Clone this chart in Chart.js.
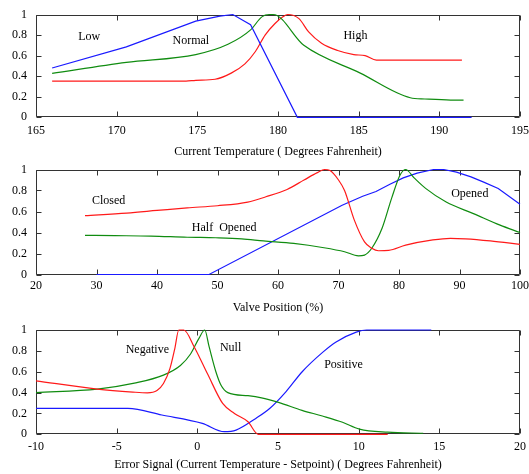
<!DOCTYPE html>
<html><head><meta charset="utf-8">
<script src="https://cdn.jsdelivr.net/npm/chart.js@4"></script>
<style>
html,body{margin:0;padding:0;background:#fff;}
#wrap{position:relative;width:529px;height:474px;overflow:hidden;background:#fff}
canvas{position:absolute;left:0}
</style></head><body>
<div id="wrap">
<canvas id="c1" width="529" height="160" style="top:0px;width:529px;height:160px"></canvas>
<canvas id="c2" width="529" height="155" style="top:160px;width:529px;height:155px"></canvas>
<canvas id="c3" width="529" height="159" style="top:315px;width:529px;height:159px"></canvas>
</div>
<script>
// ---- Chart 1: Current Temperature ----
const lowX    = [166, 170.6, 174.9, 176.4, 177.2, 178.3, 181.2, 192];
const lowY    = [0.48, 0.685, 0.935, 0.985, 1.0, 0.9, 0, 0];
const normalX = [166, 170.6, 174.9, 176.9, 178.3, 179.0, 179.45, 179.7, 181.6, 185.1, 188.2, 189.1, 190.7, 191.5];
const normalY = [0.427, 0.534, 0.61, 0.71, 0.85, 0.977, 1.0, 1.0, 0.70, 0.43, 0.19, 0.178, 0.168, 0.168];
const highX   = [166, 174.3, 174.9, 176.1, 177.1, 177.95, 178.6, 179.2, 179.8, 180.3, 180.6, 181.3, 181.9, 182.7, 183.7, 184.7, 185.4, 186.1, 191.4];
const highY   = [0.352, 0.352, 0.36, 0.37, 0.43, 0.52, 0.64, 0.80, 0.91, 0.977, 1.0, 0.96, 0.83, 0.72, 0.65, 0.61, 0.60, 0.556, 0.556];
const tempLabels  = ['Low', 'Normal', 'High'];
const tempLabelX  = [168.3, 174.6, 184.8];
const tempLabelY  = [0.78, 0.745, 0.79];

// ---- Chart 2: Valve Position ----
const closedX = [28.1, 35, 40, 45, 50, 55, 58, 61.5, 64.3, 66.5, 67.7, 68.6, 70, 71, 72.6, 74.3, 75.5, 76.6, 78.3, 81.1, 85.6, 88.5, 91, 95.1, 100];
const closedY = [0.56, 0.585, 0.61, 0.635, 0.655, 0.69, 0.74, 0.81, 0.90, 0.97, 1.0, 0.99, 0.90, 0.80, 0.52, 0.31, 0.25, 0.226, 0.23, 0.28, 0.33, 0.345, 0.34, 0.32, 0.287];
const halfX   = [28.1, 33, 39, 45, 49.7, 54, 57.6, 62.6, 67.6, 71, 73.3, 74.3, 75.5, 77.2, 78.8, 80.2, 81.1, 82.5, 84.4, 87.8, 92.3, 96.7, 100];
const halfY   = [0.373, 0.37, 0.366, 0.355, 0.35, 0.34, 0.32, 0.296, 0.255, 0.217, 0.178, 0.185, 0.25, 0.44, 0.73, 0.95, 1.0, 0.92, 0.82, 0.69, 0.58, 0.47, 0.40];
const openedX = [30, 48.6, 70.6, 74, 76.2, 78.5, 80.7, 83, 85.7, 87.4, 89.5, 91.9, 94, 96.4, 100];
const openedY = [0, 0, 0.66, 0.745, 0.79, 0.86, 0.92, 0.965, 1.0, 1.0, 0.975, 0.93, 0.88, 0.82, 0.67];
const valveLabels = ['Closed', 'Half  Opened', 'Opened'];
const valveLabelX = [32, 51.1, 91.7];
const valveLabelY = [0.70, 0.445, 0.765];

// ---- Chart 3: Error Signal ----
const negX  = [-10, -6.2, -4, -3.1, -2.5, -2.1, -1.7, -1.4, -1.15, -0.84, -0.2, 0.63, 1.57, 2.3, 3.14, 3.77, 11.8];
const negY  = [0.513, 0.433, 0.405, 0.398, 0.42, 0.487, 0.63, 0.82, 1.0, 1.0, 0.84, 0.58, 0.296, 0.20, 0.12, 0, 0];
const nullX = [-10, -6.2, -3.9, -2.1, -1.05, -0.42, 0.1, 0.46, 0.73, 1.15, 1.47, 1.89, 3.14, 3.98, 5.03, 6.49, 7.75, 9.0, 10.05, 11.8, 14.0];
const nullY = [0.40, 0.433, 0.49, 0.567, 0.66, 0.77, 0.92, 1.0, 0.84, 0.6, 0.47, 0.40, 0.37, 0.35, 0.306, 0.23, 0.175, 0.115, 0.05, 0.02, 0.01];
const posX  = [-10, -4.3, -2.2, 0.31, 1.67, 2.4, 3.6, 4.5, 5.5, 6.5, 7.8, 8.6, 9.85, 10.5, 14.5];
const posY  = [0.248, 0.248, 0.185, 0.105, 0.025, 0.04, 0.15, 0.25, 0.41, 0.6, 0.79, 0.885, 0.98, 1.0, 1.0];
const errLabels = ['Negative', 'Null', 'Positive'];
const errLabelX = [-3.1, 2.06, 9.06];
const errLabelY = [0.806, 0.83, 0.67];

const RED = '#ff1a1a', GREEN = '#108c10', BLUE = '#1a1aff';
const FONT = {family: '"Liberation Serif", "Times New Roman", serif', size: 12};

function pts(xs, ys) { return xs.map((x, i) => ({x: x, y: ys[i]})); }

const framePlugin = {
  id: 'frameTicks',
  beforeDatasetsDraw(chart) {
    const {ctx, chartArea: a, scales: {x, y}} = chart;
    ctx.save();
    ctx.strokeStyle = '#333';
    ctx.lineWidth = 1;
    const L = Math.round(a.left) + 0.5, R = Math.round(a.right) - 0.5;
    const T = Math.round(a.top) + 0.5, B = Math.round(a.bottom) - 0.5;
    ctx.beginPath();
    ctx.rect(L, T, R - L, B - T);
    x.ticks.forEach(t => {
      const p = Math.round(x.getPixelForValue(t.value)) + 0.5;
      ctx.moveTo(p, B); ctx.lineTo(p, B - 5);
      ctx.moveTo(p, T); ctx.lineTo(p, T + 5);
    });
    y.ticks.forEach(t => {
      const p = Math.round(y.getPixelForValue(t.value)) + 0.5;
      ctx.moveTo(L, p); ctx.lineTo(L + 5, p);
      ctx.moveTo(R, p); ctx.lineTo(R - 5, p);
    });
    ctx.stroke();
    ctx.restore();
  },
  afterDatasetsDraw(chart, args, opts) {
    const {ctx, scales: {x, y}} = chart;
    ctx.save();
    ctx.fillStyle = '#000';
    ctx.font = FONT.size + 'px ' + FONT.family;
    ctx.textAlign = 'center';
    ctx.textBaseline = 'middle';
    (opts.texts || []).forEach((s, i) => {
      ctx.fillText(s, x.getPixelForValue(opts.xs[i]), y.getPixelForValue(opts.ys[i]));
    });
    ctx.restore();
  }
};

function makeChart(id, cfg) {
  const ds = cfg.series.map(s => ({
    data: pts(s.x, s.y),
    borderColor: s.color,
    borderWidth: 1.2,
    pointRadius: 0,
    fill: false,
    tension: s.linear ? 0 : 0.4,
    cubicInterpolationMode: s.linear ? 'default' : 'monotone',
    clip: 3
  }));
  return new Chart(document.getElementById(id), {
    type: 'line',
    data: {datasets: ds},
    plugins: [framePlugin],
    options: {
      responsive: false,
      animation: false,
      devicePixelRatio: 1,
      layout: {padding: {top: cfg.top, right: 9, left: 0, bottom: 0}},
      plugins: {
        legend: {display: false},
        tooltip: {enabled: false},
        frameTicks: {texts: cfg.labels, xs: cfg.labelX, ys: cfg.labelY}
      },
      scales: {
        x: {
          type: 'linear', min: cfg.xmin, max: cfg.xmax,
          ticks: {stepSize: cfg.step, color: '#000', font: FONT, padding: cfg.tickPad, maxRotation: 0, autoSkip: false},
          grid: {display: false, drawTicks: false},
          border: {display: false},
          title: {display: true, text: cfg.title, color: '#000', font: FONT, padding: {top: 0, bottom: cfg.titlePad}},
          afterFit(s) { s.height = cfg.axisH; s.paddingLeft = 0; s.paddingRight = 0; }
        },
        y: {
          type: 'linear', min: 0, max: 1,
          ticks: {stepSize: 0.2, color: '#000', font: FONT, padding: 9,
                  callback: v => String(Number(v.toFixed(1)))},
          grid: {display: false, drawTicks: false},
          border: {display: false},
          afterFit(s) { s.width = 36; s.paddingTop = 0; s.paddingBottom = 0; }
        }
      }
    }
  });
}

makeChart('c1', {
  xmin: 165, xmax: 195, step: 5, top: 14.5, axisH: 42.7, tickPad: 6, titlePad: 1.3,
  title: 'Current Temperature ( Degrees Fahrenheit)',
  labels: tempLabels, labelX: tempLabelX, labelY: tempLabelY,
  series: [
    {x: lowX, y: lowY, color: BLUE, linear: true},
    {x: normalX, y: normalY, color: GREEN},
    {x: highX, y: highY, color: RED}
  ]
});
makeChart('c2', {
  xmin: 20, xmax: 100, step: 10, top: 9.5, axisH: 40.5, tickPad: 4, titlePad: 0,
  title: 'Valve Position (%)',
  labels: valveLabels, labelX: valveLabelX, labelY: valveLabelY,
  series: [
    {x: closedX, y: closedY, color: RED},
    {x: halfX, y: halfY, color: GREEN},
    {x: openedX, y: openedY, color: BLUE, linear: true}
  ]
});
makeChart('c3', {
  xmin: -10, xmax: 20, step: 5, top: 15, axisH: 39.7, tickPad: 5, titlePad: 1.8,
  title: 'Error Signal (Current Temperature - Setpoint) ( Degrees Fahrenheit)',
  labels: errLabels, labelX: errLabelX, labelY: errLabelY,
  series: [
    {x: negX, y: negY, color: RED},
    {x: nullX, y: nullY, color: GREEN},
    {x: posX, y: posY, color: BLUE}
  ]
});
</script>
</body></html>
